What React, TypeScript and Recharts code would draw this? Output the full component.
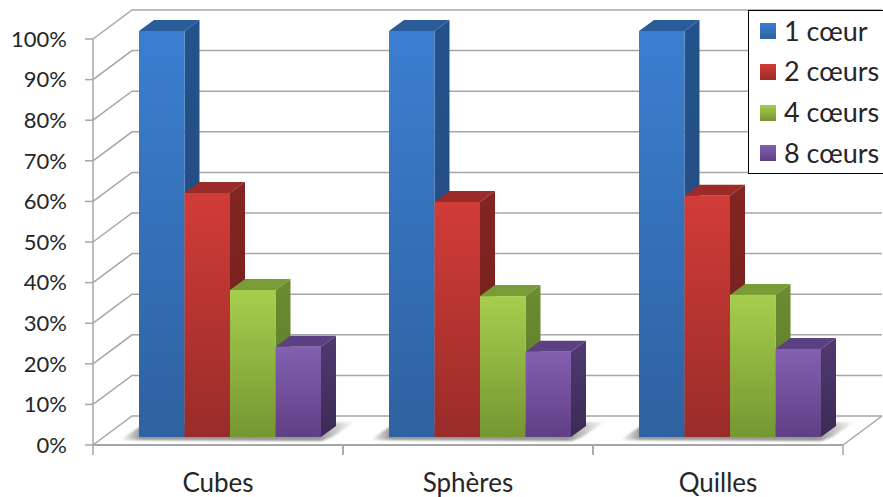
import React from 'react';
import { BarChart, Bar, XAxis, YAxis, CartesianGrid } from 'recharts';

const categories = ['Cubes', 'Sphères', 'Quilles'];
const seriesNames = ['1 cœur', '2 cœurs', '4 cœurs', '8 cœurs'];
const oneCore = [100, 100, 100];
const twoCores = [60.1, 57.9, 59.4];
const fourCores = [36.2, 34.7, 35];
const eightCores = [22.2, 21, 21.7];
const percentTicks = [0, 10, 20, 30, 40, 50, 60, 70, 80, 90, 100];

const data = categories.map((name, i) => ({
  name,
  [seriesNames[0]]: oneCore[i],
  [seriesNames[1]]: twoCores[i],
  [seriesNames[2]]: fourCores[i],
  [seriesNames[3]]: eightCores[i],
}));

const WIDTH = 883;
const HEIGHT = 497;
const FONT = 'Lato, Carlito, sans-serif';
const AXIS_COLOR = '#a6a6a6';
const TEXT_COLOR = '#262626';

// perspective of the fake 3D box
const WALL_DX = 39;
const WALL_DY = 29;
const BAR_SHIFT_X = 12;
const BAR_SHIFT_Y = 8;
const DEPTH_X = 15;
const DEPTH_Y = 11;
// recharts rounds the bar width up to 46, the picture has 45.5
const WIDTH_TRIM = 0.5;

// front top/bottom, side top/bottom, cap
const palettes = [
  { id: 'blue', front: ['#3b7ed0', '#2e62a0'], side: ['#25528c', '#234a7c'], cap: '#2b5c9a' },
  { id: 'red', front: ['#d13c38', '#992c29'], side: ['#832522', '#6e1f1d'], cap: '#9b2b29' },
  { id: 'green', front: ['#a6ce4d', '#769632'], side: ['#6c8c30', '#5b7729'], cap: '#7a9c36' },
  { id: 'purple', front: ['#8360b0', '#613f85'], side: ['#503a72', '#3b2a55'], cap: '#5b4082' },
];

const Bar3D = (props: any, paletteIndex: number) => {
  const { x, y, width, height } = props;
  const p = palettes[paletteIndex];
  const w = width - WIDTH_TRIM;
  const left = x + BAR_SHIFT_X - paletteIndex * WIDTH_TRIM;
  const right = left + w;
  const top = y - BAR_SHIFT_Y;
  const bottom = top + height;
  return (
    <g>
      {paletteIndex === 0 && (
        // soft shadow on the floor under the whole cluster
        <polygon
          points={`${left - 19},${bottom + 3} ${left + 2},${bottom - 11} ${left + 216},${bottom - 15} ${left + 193},${bottom} ${left + 183},${bottom + 4}`}
          fill="url(#floorShadow)"
          filter="url(#soft)"
        />
      )}
      <polygon
        points={`${left},${top} ${left + DEPTH_X},${top - DEPTH_Y} ${right + DEPTH_X},${top - DEPTH_Y} ${right},${top}`}
        fill={p.cap}
      />
      <polygon
        points={`${right},${top} ${right + DEPTH_X},${top - DEPTH_Y} ${right + DEPTH_X},${bottom - DEPTH_Y} ${right},${bottom}`}
        fill={`url(#side-${p.id})`}
      />
      <rect x={left} y={top} width={w} height={height} fill={`url(#front-${p.id})`} />
    </g>
  );
};

// back wall line with its diagonal, from the value axis to the right edge
const WallLine = (props: any) => {
  const { x1, x2, y1, key } = props;
  const isFloor = y1 > 440;
  return (
    <g key={key}>
      <polyline
        points={`${x1},${y1} ${x1 + WALL_DX},${y1 - WALL_DY} ${x2 + WALL_DX},${y1 - WALL_DY}`}
        fill="none"
        stroke={AXIS_COLOR}
        strokeWidth={1.5}
      />
      {isFloor && (
        <line x1={x2} y1={y1} x2={x2 + WALL_DX} y2={y1 - WALL_DY} stroke={AXIS_COLOR} strokeWidth={1.5} />
      )}
    </g>
  );
};

// category tick: label in the middle, tick marks on the band edges
const CategoryTick = (props: any) => {
  const { x, y, payload } = props;
  const band = 250;
  return (
    <g>
      <line x1={x - band / 2} y1={y - 10} x2={x - band / 2} y2={y} stroke={AXIS_COLOR} strokeWidth={1.5} />
      <line x1={x + band / 2} y1={y - 10} x2={x + band / 2} y2={y} stroke={AXIS_COLOR} strokeWidth={1.5} />
      <text x={x} y={y + 37} textAnchor="middle" fontFamily={FONT} fontSize={26} fill={TEXT_COLOR}>
        {payload.value}
      </text>
    </g>
  );
};

const LegendBox = () => (
  <div
    style={{
      position: 'absolute',
      left: 748,
      top: 10,
      width: 140,
      height: 162,
      background: '#fff',
      border: '1px solid #000',
      fontFamily: FONT,
      fontSize: 27,
      color: TEXT_COLOR,
    }}
  >
    {seriesNames.map((name, i) => (
      <div key={name} style={{ position: 'absolute', left: 11, top: 20 + i * 40.8 - 15, height: 30, display: 'flex', alignItems: 'center' }}>
        <span
          style={{
            width: 16,
            height: 16,
            marginRight: 8,
            background: `linear-gradient(${palettes[i].front[0]}, ${palettes[i].front[1]})`,
          }}
        />
        <span style={{ whiteSpace: 'nowrap', position: 'relative', top: -1 }}>{name}</span>
      </div>
    ))}
  </div>
);

export default function App() {
  return (
    <div style={{ position: 'absolute', left: 0, top: 0, width: WIDTH, height: HEIGHT, overflow: 'hidden', background: '#fff' }}>
      <BarChart
        width={WIDTH}
        height={HEIGHT}
        data={data}
        margin={{ top: 39, right: 40, bottom: 0, left: 0 }}
        barCategoryGap={34}
        barGap={0}
      >
        <defs>
          {palettes.map((p) => (
            <React.Fragment key={p.id}>
              <linearGradient id={`front-${p.id}`} x1="0" y1="0" x2="0" y2="1">
                <stop offset="0%" stopColor={p.front[0]} />
                <stop offset="100%" stopColor={p.front[1]} />
              </linearGradient>
              <linearGradient id={`side-${p.id}`} x1="0" y1="0" x2="0" y2="1">
                <stop offset="0%" stopColor={p.side[0]} />
                <stop offset="100%" stopColor={p.side[1]} />
              </linearGradient>
            </React.Fragment>
          ))}
          <linearGradient id="floorShadow" x1="0" y1="0" x2="1" y2="0">
            <stop offset="0%" stopColor="#8c8c8c" stopOpacity={0} />
            <stop offset="9%" stopColor="#8c8c8c" stopOpacity={0.9} />
            <stop offset="84%" stopColor="#8c8c8c" stopOpacity={0.9} />
            <stop offset="100%" stopColor="#8c8c8c" stopOpacity={0} />
          </linearGradient>
          <filter id="soft" x="-5%" y="-30%" width="110%" height="160%">
            <feGaussianBlur stdDeviation="1.2" />
          </filter>
        </defs>
        <CartesianGrid horizontal={WallLine} vertical={false} />
        <XAxis
          dataKey="name"
          height={52}
          axisLine={{ stroke: AXIS_COLOR, strokeWidth: 2 }}
          tickLine={false}
          tickMargin={0}
          tickSize={0}
          interval={0}
          tick={(p: any) => <CategoryTick {...p} y={455} />}
        />
        <YAxis
          width={93}
          domain={[0, 100]}
          ticks={percentTicks}
          interval={0}
          tickFormatter={(v: number) => `${v}%`}
          axisLine={{ stroke: AXIS_COLOR, strokeWidth: 1.5 }}
          tickLine={{ stroke: AXIS_COLOR, strokeWidth: 1.5 }}
          tickSize={8}
          tickMargin={18}
          tick={{ fontFamily: FONT, fontSize: 22, fill: TEXT_COLOR }}
        />
        {seriesNames.map((name, i) => (
          <Bar
            key={name}
            dataKey={name}
            isAnimationActive={false}
            shape={(p: any) => Bar3D(p, i)}
          />
        ))}
      </BarChart>
      <LegendBox />
    </div>
  );
}
